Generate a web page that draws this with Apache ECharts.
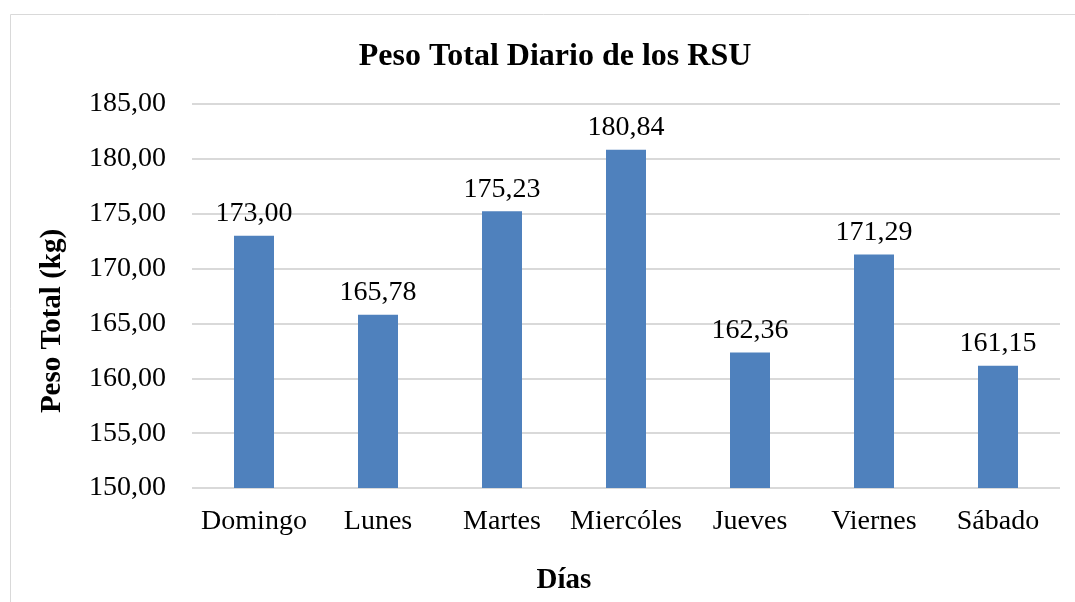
<!DOCTYPE html>
<html>
<head>
<meta charset="utf-8">
<script src="https://cdn.jsdelivr.net/npm/echarts@6/dist/echarts.min.js"></script>
<style>
  html, body { margin: 0; padding: 0; background: #fff; }
  #chart { width: 1075px; height: 602px; }
</style>
</head>
<body>
<div id="chart"></div>
<script>
const dias = ['Domingo', 'Lunes', 'Martes', 'Miercóles', 'Jueves', 'Viernes', 'Sábado']
const pesoTotal = [173.00, 165.78, 175.23, 180.84, 162.36, 171.29, 161.15]

const serif = '"Liberation Serif", "DejaVu Serif", serif'
const fmt = v => v.toFixed(2).replace('.', ',')

const chart = echarts.init(document.getElementById('chart'))

chart.setOption({
  animation: false,
  graphic: [{
    type: 'rect',
    shape: { x: 10.5, y: 14.5, width: 1200, height: 800 },
    style: { fill: 'none', stroke: '#d9d9d9', lineWidth: 1 },
    silent: true
  }, {
    // y axis title sits off the grid centre, like the original
    type: 'text',
    x: 53,
    y: 321,
    rotation: Math.PI / 2,
    style: {
      text: 'Peso Total (kg)',
      font: 'bold 29px ' + serif,
      fill: '#000',
      align: 'center',
      verticalAlign: 'middle'
    },
    silent: true
  }],
  title: [{
    text: 'Peso Total Diario de los RSU',
    left: 550,
    top: 36,
    textAlign: 'center',
    textStyle: { fontFamily: serif, fontSize: 32, fontWeight: 'bold', color: '#000' }
  }, {
    text: 'Días',
    left: 559,
    top: 561,
    textAlign: 'center',
    textStyle: { fontFamily: serif, fontSize: 29, fontWeight: 'bold', color: '#000' }
  }],
  grid: { left: 192, right: 15, top: 104, bottom: 114 },
  xAxis: {
    type: 'category',
    data: dias,
    axisLine: { show: false },
    axisTick: { show: false },
    axisLabel: { fontFamily: serif, fontSize: 28, color: '#000', margin: 20, interval: 0 }
  },
  yAxis: {
    type: 'value',
    min: 150,
    max: 185,
    interval: 5,
    axisLine: { show: false },
    axisTick: { show: false },
    axisLabel: { fontFamily: serif, fontSize: 28, color: '#000', margin: 26, formatter: fmt },
    splitLine: { lineStyle: { color: '#d9d9d9', width: 2 } }
  },
  series: [{
    type: 'bar',
    data: pesoTotal,
    barWidth: 40,
    itemStyle: { color: '#4f81bd' },
    label: {
      show: true,
      position: 'top',
      distance: 8,
      fontFamily: serif,
      fontSize: 28,
      color: '#000',
      formatter: p => fmt(p.value)
    }
  }]
})
</script>
</body>
</html>
